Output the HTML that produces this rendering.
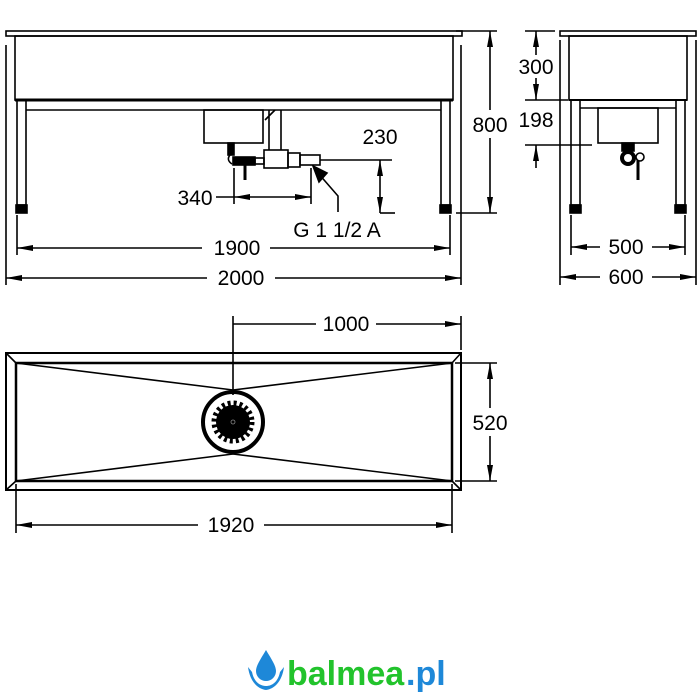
<!DOCTYPE html>
<html><head><meta charset="utf-8"><style>
html,body{margin:0;padding:0;background:#fff}
svg{display:block}
text{font-family:"Liberation Sans",sans-serif;fill:#000}
</style></head><body>
<svg width="700" height="700" viewBox="0 0 700 700" xmlns="http://www.w3.org/2000/svg">
<defs>
<marker id="a" viewBox="0 0 16 6" refX="16" refY="3" markerWidth="16" markerHeight="6" orient="auto-start-reverse" markerUnits="userSpaceOnUse"><path d="M0,0L16,3L0,6z" fill="#000"/></marker>
</defs>
<g stroke="#000" fill="none" stroke-width="1.6">
<rect x="6" y="31" width="456" height="5"/>
<rect x="15" y="36" width="438" height="64"/>
<line x1="15" y1="100" x2="453" y2="100" stroke-width="3"/>
<line x1="26" y1="110" x2="441" y2="110"/>
<rect x="17" y="100" width="9" height="105"/>
<rect x="441" y="100" width="9" height="105"/>
<rect x="16" y="205" width="11" height="8" fill="#000"/>
<rect x="440" y="205" width="11" height="8" fill="#000"/>
<rect x="204" y="110" width="59" height="33"/>
<path d="M269,110 V150 M281,110 V150 M265,120 L275,110"/>
<rect x="264" y="150" width="24" height="18"/>
<rect x="288" y="153" width="12" height="14"/>
<rect x="300" y="155" width="20" height="10"/>
<rect x="228" y="143" width="6" height="12" fill="#000"/>
<path d="M230,155 Q226,160 232,164"/>
<rect x="233" y="157" width="22" height="8" fill="#000"/>
<rect x="255" y="158" width="9" height="6"/>
<line x1="245" y1="165" x2="245" y2="180" stroke-width="3"/>
<line x1="320" y1="160" x2="392" y2="160"/>
<line x1="234" y1="168" x2="234" y2="204"/>
<line x1="311" y1="168" x2="311" y2="204"/>
<line x1="216" y1="197" x2="234" y2="197"/>
<line x1="234" y1="197" x2="311" y2="197" marker-start="url(#a)" marker-end="url(#a)"/>
<line x1="380" y1="160" x2="380" y2="213" marker-start="url(#a)" marker-end="url(#a)"/>
<line x1="380" y1="213" x2="395" y2="213"/>
<path d="M338,212 V196 L318,173"/>
<path d="M313,166 L327,173 L319,182z" fill="#000"/>
<line x1="456" y1="31" x2="497" y2="31"/>
<line x1="456" y1="213" x2="497" y2="213"/>
<line x1="490" y1="31" x2="490" y2="213" marker-start="url(#a)" marker-end="url(#a)"/>
<line x1="6" y1="45" x2="6" y2="285"/>
<line x1="461" y1="45" x2="461" y2="285"/>
<line x1="17" y1="215" x2="17" y2="255"/>
<line x1="450" y1="215" x2="450" y2="255"/>
<line x1="17" y1="248" x2="450" y2="248" marker-start="url(#a)" marker-end="url(#a)"/>
<line x1="6" y1="278" x2="461" y2="278" marker-start="url(#a)" marker-end="url(#a)"/>
<rect x="560" y="31" width="136" height="5"/>
<rect x="569" y="36" width="118" height="64"/>
<line x1="569" y1="100" x2="687" y2="100" stroke-width="2"/>
<line x1="580" y1="108" x2="676" y2="108"/>
<rect x="571" y="100" width="9" height="105"/>
<rect x="676" y="100" width="9" height="105"/>
<rect x="570" y="205" width="11" height="8" fill="#000"/>
<rect x="675" y="205" width="11" height="8" fill="#000"/>
<rect x="598" y="108" width="60" height="35"/>
<rect x="622" y="143" width="12" height="8" fill="#000"/>
<circle cx="628" cy="158" r="6" stroke-width="4"/>
<circle cx="640" cy="157" r="4"/>
<line x1="638" y1="160" x2="638" y2="180" stroke-width="3"/>
<line x1="560" y1="40" x2="560" y2="285"/>
<line x1="696" y1="40" x2="696" y2="285"/>
<line x1="525" y1="31" x2="555" y2="31"/>
<line x1="525" y1="100" x2="568" y2="100"/>
<line x1="525" y1="145" x2="592" y2="145"/>
<line x1="536" y1="31" x2="536" y2="55" marker-start="url(#a)"/>
<line x1="536" y1="78" x2="536" y2="100" marker-end="url(#a)"/>
<line x1="536" y1="145" x2="536" y2="168" marker-start="url(#a)"/>
<line x1="571" y1="215" x2="571" y2="255"/>
<line x1="685" y1="215" x2="685" y2="255"/>
<line x1="571" y1="247" x2="685" y2="247" marker-start="url(#a)" marker-end="url(#a)"/>
<line x1="560" y1="277" x2="696" y2="277" marker-start="url(#a)" marker-end="url(#a)"/>
<rect x="6" y="353" width="455" height="137" stroke-width="2"/>
<rect x="16" y="363" width="436" height="118" stroke-width="2.5"/>
<path d="M6,353 L16,363 M461,353 L452,363 M6,490 L16,481 M461,490 L452,481"/>
<path d="M16,363 L233,390 L452,363 M16,481 L233,454 L452,481"/>
<circle cx="233" cy="422" r="30" stroke-width="4"/>
<circle cx="233" cy="422" r="17" fill="#000" stroke="none"/>
<circle cx="233" cy="422" r="19" stroke="#000" stroke-width="5" stroke-dasharray="3 3"/>
<circle cx="233" cy="422" r="2" stroke="#888" stroke-width="0.8"/>
<line x1="233" y1="316" x2="233" y2="395"/>
<line x1="461" y1="316" x2="461" y2="350"/>
<line x1="233" y1="324" x2="461" y2="324" marker-end="url(#a)"/>
<line x1="455" y1="363" x2="497" y2="363"/>
<line x1="455" y1="481" x2="497" y2="481"/>
<line x1="490" y1="363" x2="490" y2="481" marker-start="url(#a)" marker-end="url(#a)"/>
<line x1="16" y1="484" x2="16" y2="533"/>
<line x1="452" y1="484" x2="452" y2="533"/>
<line x1="16" y1="525" x2="452" y2="525" marker-start="url(#a)" marker-end="url(#a)"/>
</g>
<g font-size="21" text-anchor="middle">
<rect x="358" y="124" width="44" height="24" fill="#fff"/>
<text x="380" y="144">230</text>
<text x="195" y="205">340</text>
<text x="337" y="237">G 1 1/2 A</text>
<rect x="470" y="110" width="40" height="28" fill="#fff"/>
<text x="490" y="132">800</text>
<rect x="202" y="237" width="68" height="22" fill="#fff"/>
<text x="237" y="255">1900</text>
<rect x="207" y="267" width="68" height="22" fill="#fff"/>
<text x="241" y="285">2000</text>
<text x="536" y="74">300</text>
<text x="536" y="127">198</text>
<rect x="600" y="236" width="52" height="22" fill="#fff"/>
<text x="626" y="254">500</text>
<rect x="600" y="266" width="52" height="22" fill="#fff"/>
<text x="626" y="284">600</text>
<rect x="316" y="313" width="60" height="22" fill="#fff"/>
<text x="346" y="331">1000</text>
<rect x="474" y="408" width="34" height="28" fill="#fff"/>
<text x="490" y="430">520</text>
<rect x="198" y="514" width="66" height="22" fill="#fff"/>
<text x="231" y="532">1920</text>
</g>
<g>
<path d="M266,650 C260,660 256,666 256,671 A10,10 0 0 0 276,671 C276,666 272,660 266,650z" fill="#1e88d8"/>
<path d="M248,667 C250,682 258,689 266,690 C274,689 282,682 284,667 L280,672 C278,682 272,686 266,686 C260,686 254,682 252,672z" fill="#1e88d8"/>
<text x="287" y="685" font-size="34" font-weight="bold" style="fill:#22c32c">balmea</text>
<text x="406" y="685" font-size="34" font-weight="bold" style="fill:#1e88d8">.pl</text>
</g>
</svg>
</body></html>
